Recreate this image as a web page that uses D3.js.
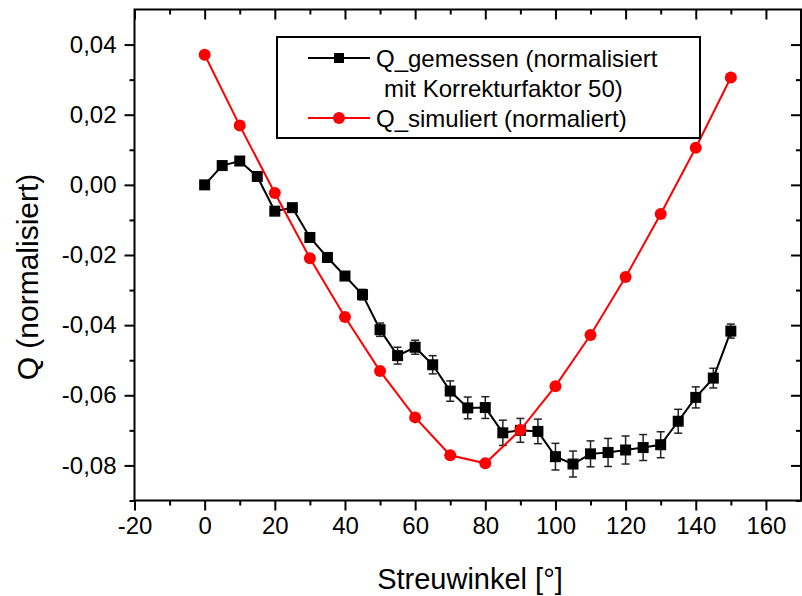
<!DOCTYPE html>
<html>
<head>
<meta charset="utf-8">
<script src="https://cdn.jsdelivr.net/npm/d3@7"></script>
<style>
  body { margin: 0; background: #fff; }
  svg { display: block; font-family: Arial, 'Liberation Sans', sans-serif; }
  .tick text { font-size: 24px; fill: #000; }
  .tick line { stroke: #000; stroke-width: 2; }
</style>
</head>
<body>
<svg width="802" height="596"></svg>
<script>
// measured series (black squares, with error bars)
const angleMeas = [0, 5, 10, 15, 20, 25, 30, 35, 40, 45, 50, 55, 60, 65, 70, 75,
  80, 85, 90, 95, 100, 105, 110, 115, 120, 125, 130, 135, 140, 145, 150]
const qMeas = [0.0000, 0.0055, 0.0068, 0.0024, -0.0075, -0.0065, -0.0150, -0.0207,
  -0.0260, -0.0313, -0.0413, -0.0487, -0.0463, -0.0513, -0.0588, -0.0636,
  -0.0635, -0.0707, -0.0700, -0.0703, -0.0775, -0.0796, -0.0767, -0.0763,
  -0.0756, -0.0749, -0.0741, -0.0674, -0.0606, -0.0551, -0.0417]
const errMeas = [0.001, 0.001, 0.001, 0.001, 0.001, 0.001, 0.001, 0.001,
  0.0012, 0.0015, 0.0019, 0.0024, 0.002, 0.0026, 0.0029, 0.0031,
  0.0031, 0.0036, 0.0034, 0.0035, 0.0038, 0.0037, 0.0037, 0.004,
  0.004, 0.0037, 0.0037, 0.0034, 0.003, 0.0028, 0.002]

// simulated series (red circles)
const angleSim = [0, 10, 20, 30, 40, 50, 60, 70, 80, 90, 100, 110, 120, 130, 140, 150]
const qSim = [0.0371, 0.0169, -0.0023, -0.0209, -0.0377, -0.0531, -0.0663, -0.0771,
  -0.0794, -0.0699, -0.0574, -0.0428, -0.0263, -0.0083, 0.0106, 0.0306]

// ticks
const xMajor = [-20, 0, 20, 40, 60, 80, 100, 120, 140, 160]
const xMinor = [-10, 10, 30, 50, 70, 90, 110, 130, 150]
const yMajor = [-0.08, -0.06, -0.04, -0.02, 0.00, 0.02, 0.04]
const yMinor = [-0.09, -0.07, -0.05, -0.03, -0.01, 0.01, 0.03]

const legendLabels = ['Q_gemessen (normalisiert', 'mit Korrekturfaktor 50)', 'Q_simuliert (normaliert)']

const svg = d3.select('svg')
const dim = { left: 134.5, right: 801, top: 9.5, bottom: 500.5 }

const xScale = d3.scaleLinear().domain([-20, 170]).range([dim.left, dim.right])
const yScale = d3.scaleLinear().domain([-0.09, 0.05]).range([dim.bottom, dim.top])

// german number style: comma decimal, plain hyphen as minus
const de = d3.formatLocale({ decimal: ',', thousands: '.', grouping: [3], currency: ['', ''], minus: '-' })
const xFmt = de.format('d')
const yFmt = de.format('.2f')

function drawAxes () {
  // bottom
  svg.append('g').attr('transform', `translate(0,${dim.bottom})`)
    .call(d3.axisBottom(xScale).tickValues(xMajor).tickSize(10).tickPadding(6).tickFormat(xFmt))
  svg.append('g').attr('transform', `translate(0,${dim.bottom})`)
    .call(d3.axisBottom(xScale).tickValues(xMinor).tickSize(5).tickFormat(''))
  // left
  svg.append('g').attr('transform', `translate(${dim.left},0)`)
    .call(d3.axisLeft(yScale).tickValues(yMajor).tickSize(10).tickPadding(8).tickFormat(yFmt))
  svg.append('g').attr('transform', `translate(${dim.left},0)`)
    .call(d3.axisLeft(yScale).tickValues(yMinor).tickSize(5).tickFormat(''))
  // top and right, ticks pointing inwards
  svg.append('g').attr('transform', `translate(0,${dim.top})`)
    .call(d3.axisTop(xScale).tickValues(xMajor).tickSize(-10).tickFormat(''))
  svg.append('g').attr('transform', `translate(0,${dim.top})`)
    .call(d3.axisTop(xScale).tickValues(xMinor).tickSize(-5).tickFormat(''))
  svg.append('g').attr('transform', `translate(${dim.right},0)`)
    .call(d3.axisRight(yScale).tickValues(yMajor).tickSize(-10).tickFormat(''))
  svg.append('g').attr('transform', `translate(${dim.right},0)`)
    .call(d3.axisRight(yScale).tickValues(yMinor).tickSize(-5).tickFormat(''))

  svg.selectAll('.domain').remove()

  svg.append('rect')
    .attr('x', dim.left).attr('y', dim.top)
    .attr('width', dim.right - dim.left).attr('height', dim.bottom - dim.top)
    .attr('fill', 'none').attr('stroke', '#000').attr('stroke-width', 2)

  svg.append('text')
    .attr('x', 470).attr('y', 589)
    .attr('text-anchor', 'middle').attr('font-size', 29)
    .text('Streuwinkel [°]')

  svg.append('text')
    .attr('transform', 'translate(38,277) rotate(-90)')
    .attr('text-anchor', 'middle').attr('font-size', 30)
    .text('Q (normalisiert)')
}

function drawMeasured () {
  const meas = angleMeas.map((a, i) => ({ a, q: qMeas[i], e: errMeas[i] }))
  const line = d3.line().x(d => xScale(d.a)).y(d => yScale(d.q))

  svg.append('path').datum(meas)
    .attr('d', line).attr('fill', 'none')
    .attr('stroke', '#000').attr('stroke-width', 2)

  const err = svg.append('g').attr('stroke', '#222').attr('stroke-width', 1.5)
  meas.forEach(d => {
    const cx = xScale(d.a)
    const y1 = yScale(d.q + d.e)
    const y2 = yScale(d.q - d.e)
    err.append('line').attr('x1', cx).attr('x2', cx).attr('y1', y1).attr('y2', y2)
    err.append('line').attr('x1', cx - 4).attr('x2', cx + 4).attr('y1', y1).attr('y2', y1)
    err.append('line').attr('x1', cx - 4).attr('x2', cx + 4).attr('y1', y2).attr('y2', y2)
  })

  svg.append('g').selectAll('rect').data(meas).join('rect')
    .attr('x', d => xScale(d.a) - 5.5).attr('y', d => yScale(d.q) - 5.5)
    .attr('width', 11).attr('height', 11).attr('fill', '#000')
}

function drawSimulated () {
  const sim = angleSim.map((a, i) => ({ a, q: qSim[i] }))
  const line = d3.line().x(d => xScale(d.a)).y(d => yScale(d.q))

  svg.append('path').datum(sim)
    .attr('d', line).attr('fill', 'none')
    .attr('stroke', '#f00').attr('stroke-width', 2)

  svg.append('g').selectAll('circle').data(sim).join('circle')
    .attr('cx', d => xScale(d.a)).attr('cy', d => yScale(d.q))
    .attr('r', 6).attr('fill', '#f00')
}

function drawLegend () {
  const g = svg.append('g')
  g.append('rect').attr('x', 277).attr('y', 37).attr('width', 423).attr('height', 101)
    .attr('fill', '#fff').attr('stroke', '#000').attr('stroke-width', 2)

  const rows = [58, 88, 118]
  g.append('line').attr('x1', 308).attr('x2', 370).attr('y1', rows[0]).attr('y2', rows[0])
    .attr('stroke', '#000').attr('stroke-width', 2)
  g.append('rect').attr('x', 334).attr('y', rows[0] - 5).attr('width', 10).attr('height', 10)
    .attr('fill', '#000')
  g.append('line').attr('x1', 308).attr('x2', 370).attr('y1', rows[2]).attr('y2', rows[2])
    .attr('stroke', '#f00').attr('stroke-width', 2)
  g.append('circle').attr('cx', 339).attr('cy', rows[2]).attr('r', 6).attr('fill', '#f00')

  const tx = [376, 384, 376]
  legendLabels.forEach((t, i) => {
    g.append('text').attr('x', tx[i]).attr('y', rows[i] + 8.5)
      .attr('font-size', 24).text(t)
  })
}

drawAxes()
drawMeasured()
drawSimulated()
drawLegend()
</script>
</body>
</html>
